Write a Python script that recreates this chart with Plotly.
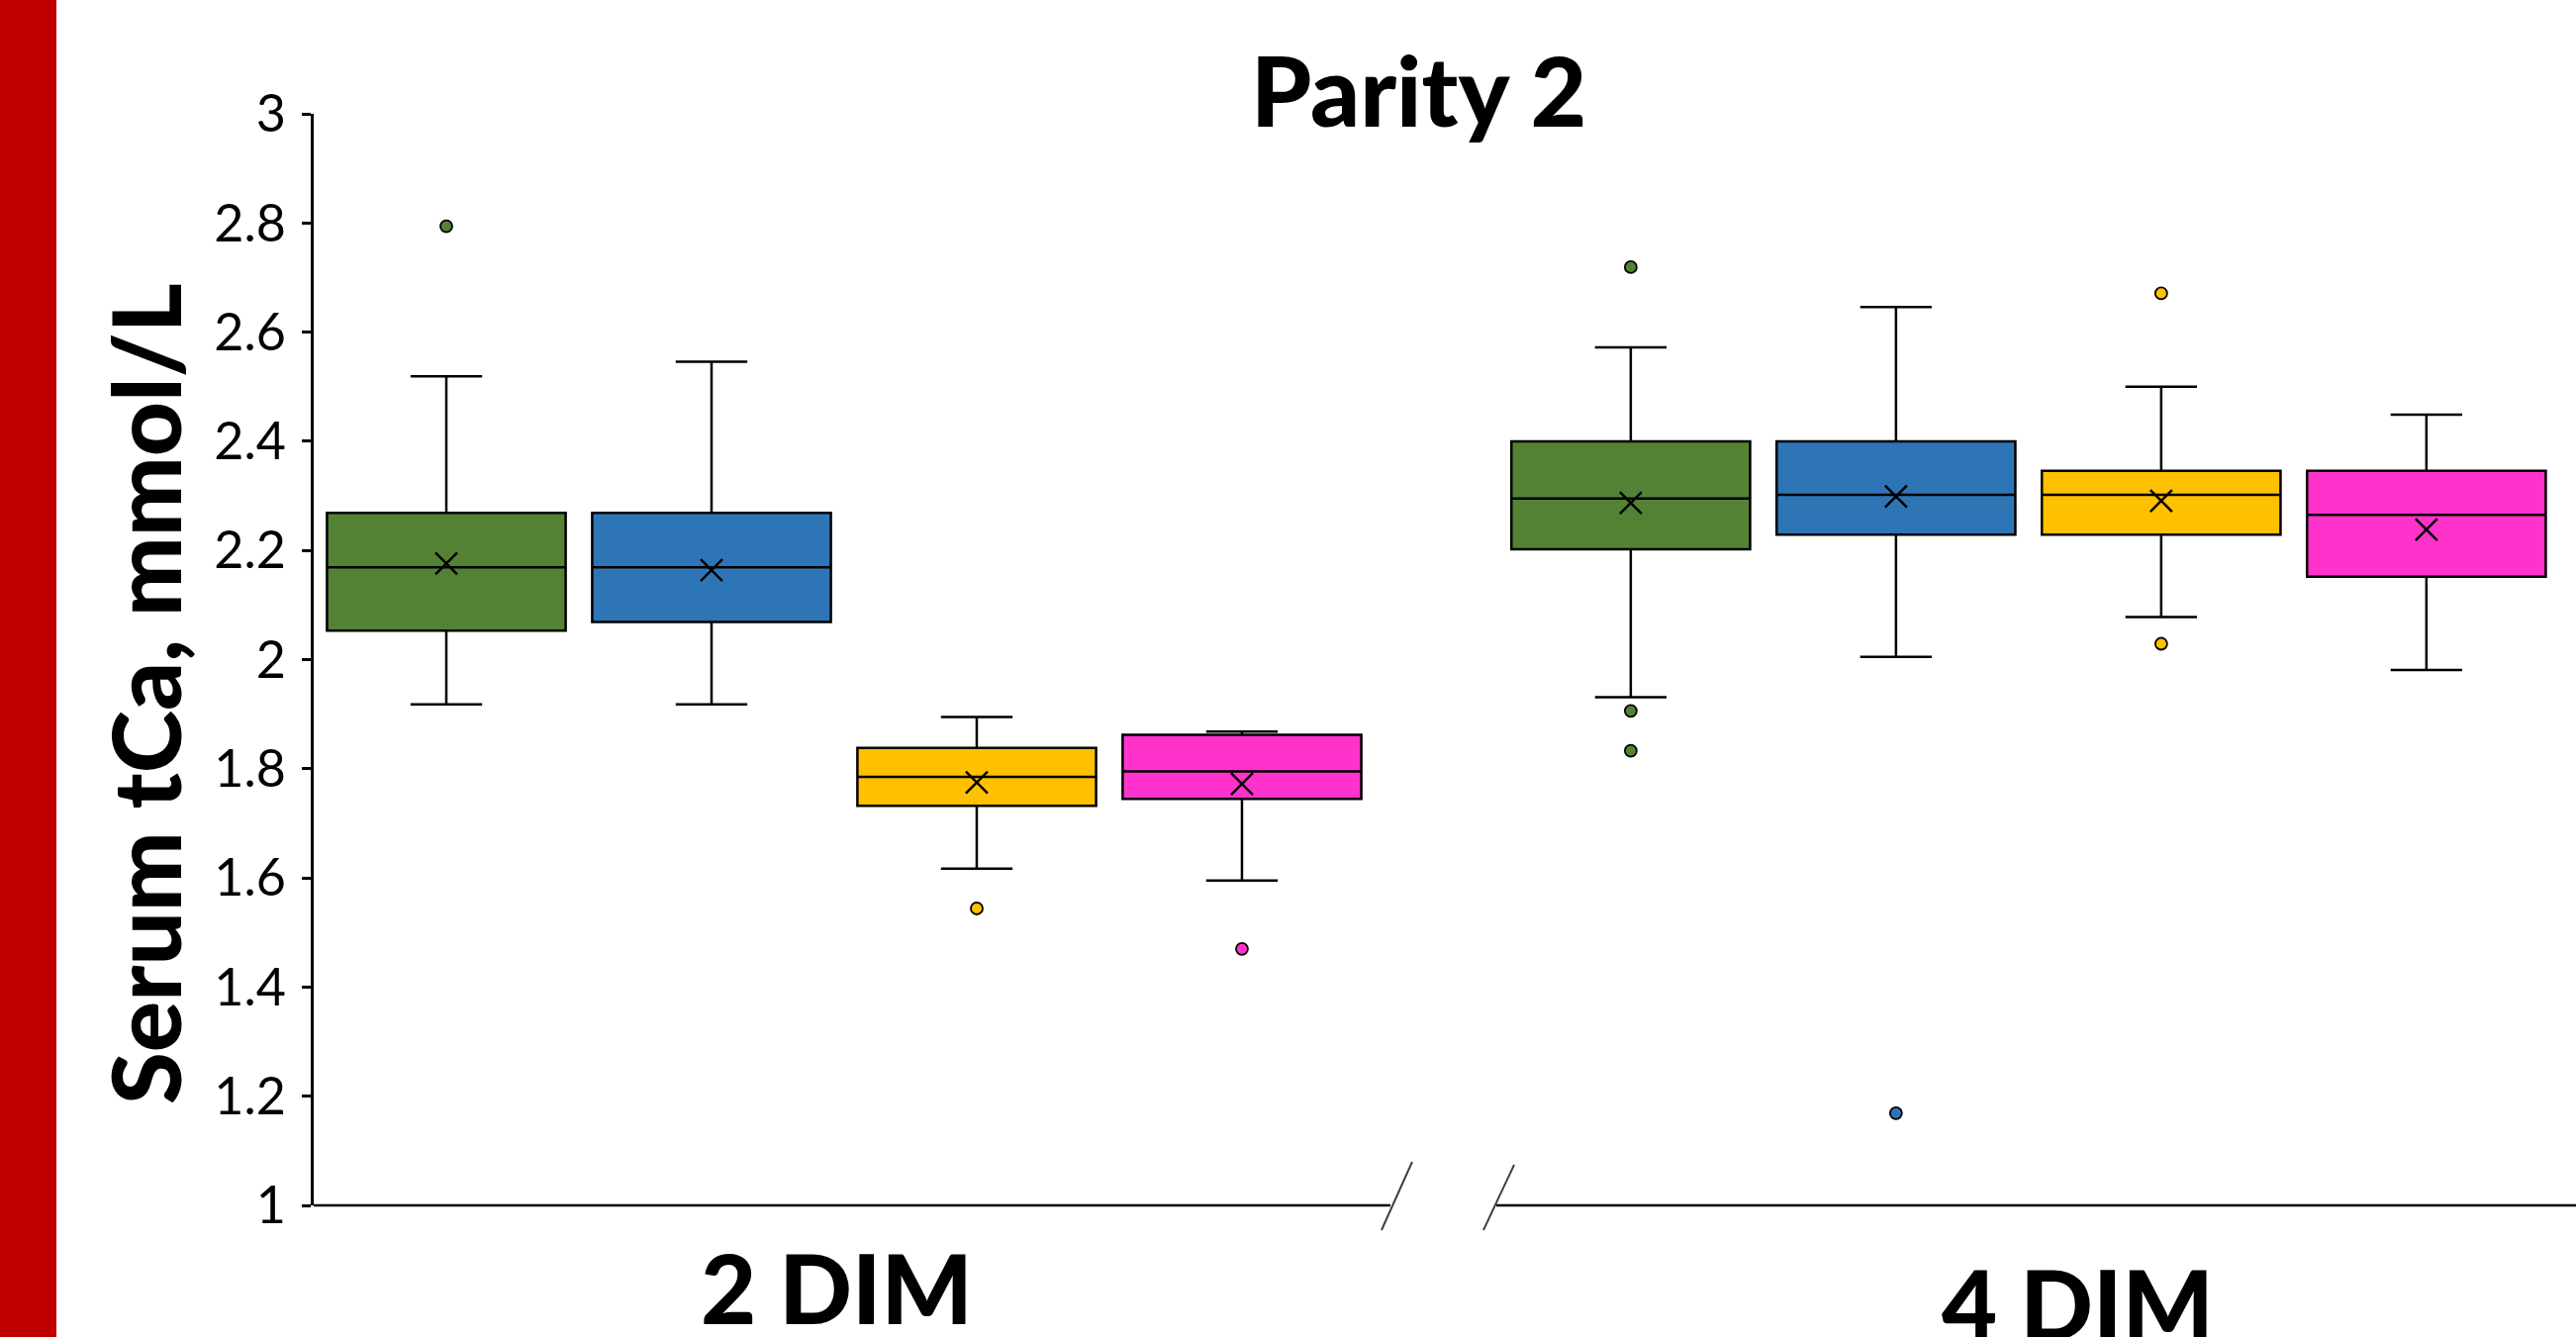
import plotly.graph_objects as go

# ---------------- data ----------------
categories = ["2 DIM", "4 DIM"]
series_names = ["Group A", "Group B", "Group C", "Group D"]
series_colors = ["#548235", "#2E75B6", "#FFC000", "#FF33CC"]

q1_vals = [[2.053, 2.202], [2.069, 2.229], [1.732, 2.229], [1.745, 2.152]]
median_vals = [[2.169, 2.295], [2.169, 2.302], [1.785, 2.302], [1.795, 2.265]]
q3_vals = [[2.269, 2.400], [2.269, 2.400], [1.838, 2.346], [1.862, 2.346]]
lower_vals = [[1.918, 1.931], [1.918, 2.005], [1.617, 2.078], [1.595, 1.981]]
upper_vals = [[2.519, 2.572], [2.546, 2.646], [1.895, 2.500], [1.868, 2.449]]
mean_vals = [[2.176, 2.287], [2.164, 2.299], [1.775, 2.291], [1.772, 2.238]]
outlier_vals = [
    [[2.794], [2.719, 1.906, 1.833]],
    [[], [1.169]],
    [[1.544], [2.671, 2.029]],
    [[1.470], []],
]

y_tickvals = [1, 1.2, 1.4, 1.6, 1.8, 2, 2.2, 2.4, 2.6, 2.8, 3]
y_ticktext = ["1", "1.2", "1.4", "1.6", "1.8", "2", "2.2", "2.4", "2.6", "2.8", "3"]

title_text = "Parity 2"
y_title = "Serum tCa, mmol/L"

# ---------------- layout geometry ----------------
W, H = 2603, 1351
L, R, T, B = 317, 0, 115, 133
group_offset = 4.466
x_range = [-0.5, 8.03]


def px_x(p):
    return (p - L) / (W - L - R)


def px_y(p):
    return (H - B - p) / (H - T - B)


fig = go.Figure()

for si, name in enumerate(series_names):
    xs = [gi * group_offset + si for gi in range(len(categories))]
    fig.add_trace(go.Box(
        x=xs,
        q1=q1_vals[si], median=median_vals[si], q3=q3_vals[si],
        lowerfence=lower_vals[si], upperfence=upper_vals[si],
        name=name, fillcolor=series_colors[si],
        line=dict(color="black", width=2.5),
        width=0.9, whiskerwidth=0.3, boxpoints=False,
        showlegend=False, hoverinfo="skip",
    ))
    # means
    fig.add_trace(go.Scatter(
        x=xs, y=mean_vals[si], mode="markers",
        marker=dict(symbol="x-thin", size=22, color="black",
                    line=dict(color="black", width=2.5)),
        showlegend=False, hoverinfo="skip",
    ))
    # outliers
    ox, oy = [], []
    for gi in range(len(categories)):
        for v in outlier_vals[si][gi]:
            ox.append(xs[gi])
            oy.append(v)
    if ox:
        fig.add_trace(go.Scatter(
            x=ox, y=oy, mode="markers",
            marker=dict(symbol="circle", size=12, color=series_colors[si],
                        line=dict(color="black", width=1.8)),
            showlegend=False, hoverinfo="skip",
        ))

shapes = []
# red bar on the left
shapes.append(dict(type="rect", xref="paper", yref="paper",
                   x0=px_x(0), x1=px_x(57), y0=px_y(H), y1=px_y(0),
                   fillcolor="#C00000", line=dict(width=0), layer="below"))
# broken x axis
axis_y = px_y(1218)
shapes.append(dict(type="line", xref="paper", yref="paper",
                   x0=px_x(317), x1=px_x(1405), y0=axis_y, y1=axis_y,
                   line=dict(color="black", width=2.5)))
shapes.append(dict(type="line", xref="paper", yref="paper",
                   x0=px_x(1512), x1=px_x(W), y0=axis_y, y1=axis_y,
                   line=dict(color="black", width=2.5)))
shapes.append(dict(type="line", xref="paper", yref="paper",
                   x0=px_x(1396), x1=px_x(1427), y0=px_y(1243), y1=px_y(1174),
                   line=dict(color="#404040", width=2)))
shapes.append(dict(type="line", xref="paper", yref="paper",
                   x0=px_x(1499), x1=px_x(1530), y0=px_y(1243), y1=px_y(1177),
                   line=dict(color="#404040", width=2)))

label_font = dict(family="Lato", size=97, color="black", weight=900)
annotations = [
    dict(text=title_text, xref="paper", yref="paper", x=px_x(1433), y=px_y(90),
         xanchor="center", yanchor="middle", showarrow=False,
         font=dict(family="Lato", size=98, color="black", weight=900)),
    dict(text=categories[0], xref="paper", yref="paper", x=px_x(845), y=px_y(1300),
         xanchor="center", yanchor="middle", showarrow=False, font=label_font),
    dict(text=categories[1], xref="paper", yref="paper", x=px_x(2099), y=px_y(1316),
         xanchor="center", yanchor="middle", showarrow=False, font=label_font),
    dict(text=y_title, xref="paper", yref="paper", x=px_x(145), y=px_y(701),
         xanchor="center", yanchor="middle", showarrow=False, textangle=-90,
         font=dict(family="Lato", size=96, color="black", weight=900)),
]

fig.update_layout(
    width=W, height=H,
    margin=dict(l=L, r=R, t=T, b=B, pad=0),
    paper_bgcolor="white", plot_bgcolor="white",
    boxmode="overlay",
    shapes=shapes, annotations=annotations,
    xaxis=dict(range=x_range, showgrid=False, zeroline=False, showline=False,
               showticklabels=False, ticks="", fixedrange=True),
    yaxis=dict(range=[1, 3], tickvals=y_tickvals, ticktext=y_ticktext,
               showgrid=False, zeroline=False, showline=True, linecolor="black",
               linewidth=2.5, ticks="outside", ticklen=9, tickwidth=2.5,
               tickcolor="black", ticklabelstandoff=6,
               tickfont=dict(family="Lato", size=52, color="black")),
    yaxis2=dict(range=[1, 3], overlaying="y", anchor="x", side="left",
                tickvals=y_tickvals, showticklabels=False, showgrid=False,
                zeroline=False, showline=False, ticks="inside", ticklen=7,
                tickwidth=2.5, tickcolor="black"),
)

fig.write_html("out.html")
